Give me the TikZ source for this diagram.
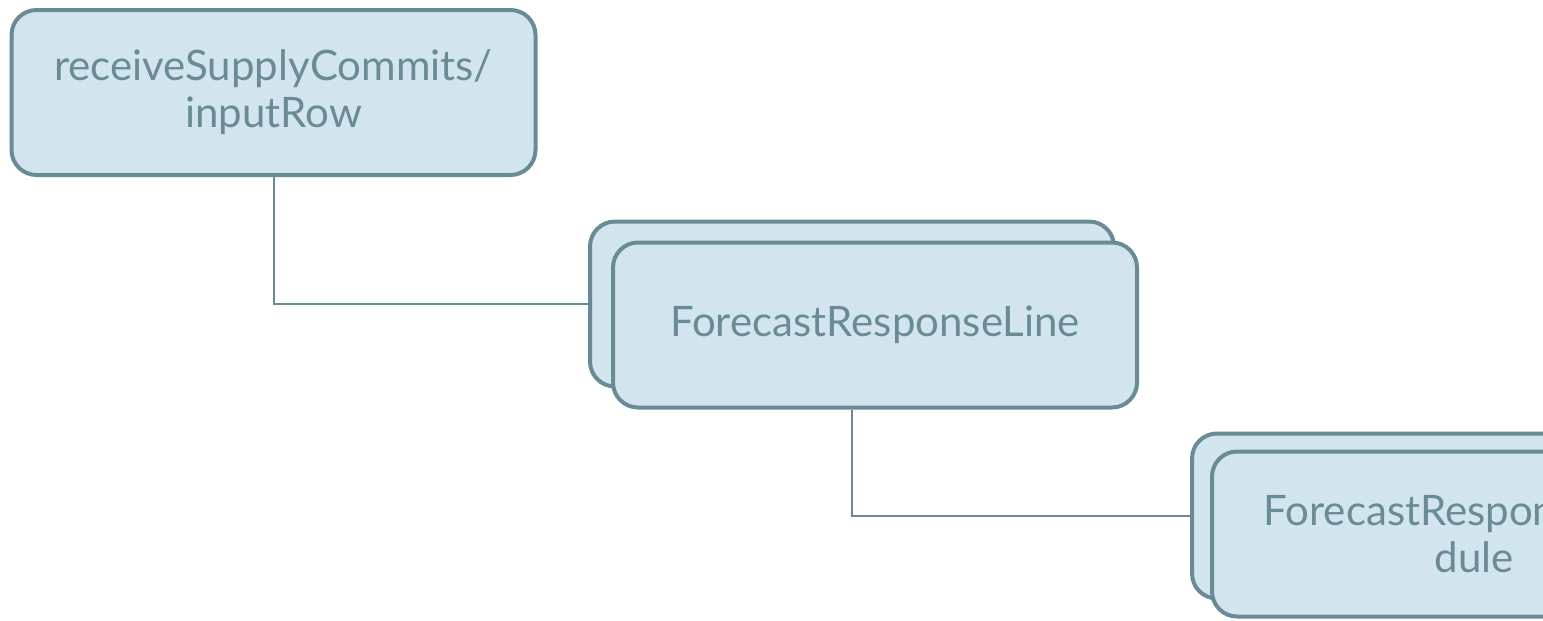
\documentclass[tikz,border=0pt]{standalone}
\usepackage{fontspec}
\setmainfont{Lato}
\usetikzlibrary{positioning}
\definecolor{boxfill}{HTML}{D2E5EE}
\definecolor{boxline}{HTML}{6A8B96}
\tikzset{
  card/.style={draw=boxline,fill=boxfill,line width=4pt,rounded corners=25pt,
    minimum width=524pt,minimum height=165pt,inner sep=0pt,
    text=boxline,align=center,font=\fontsize{42}{47}\selectfont},
  link/.style={draw=boxline,line width=2pt}
}
\begin{document}
\begin{tikzpicture}[x=1pt,y=-1pt]
\useasboundingbox (0,0) rectangle (1543,621);
\clip (0,0) rectangle (1543,621);
\node [card] (inrow) at (273.5,92.5) {receiveSupplyCommits/\\inputRow};
\node [card] (lineback) at (852,304) {};
\node [card] (line) at (875,325) {ForecastResponseLine};
\node [card] (schedback) at (1454,516) {};
\node [card] (sched) at (1474,534) {ForecastResponseSche\\dule};
\draw [link] (inrow.south) |- (lineback.west);
\draw [link] (lineback.south |- line.south) |- (schedback.west);
\end{tikzpicture}
\end{document}
